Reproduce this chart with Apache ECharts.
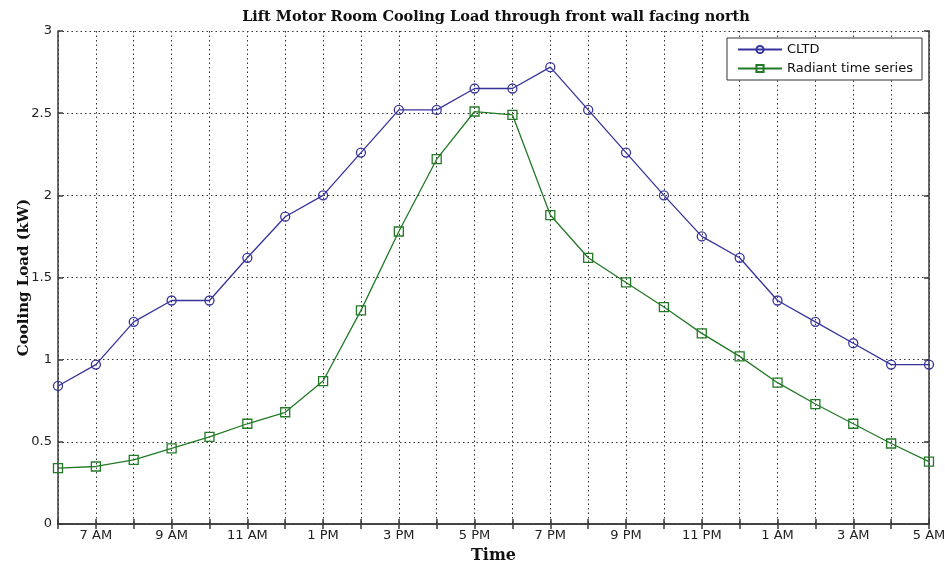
<!DOCTYPE html>
<html>
<head>
<meta charset="utf-8">
<script src="https://cdn.jsdelivr.net/npm/echarts@6/dist/echarts.min.js"></script>
<style>
  html, body { margin: 0; padding: 0; background: #fff; }
  #chart { width: 945px; height: 563px; }
</style>
</head>
<body>
<div id="chart"></div>
<script>
// Hourly time slots, 6 AM through 5 AM the next morning
const hours = [
  '6 AM', '7 AM', '8 AM', '9 AM', '10 AM', '11 AM', '12 PM', '1 PM',
  '2 PM', '3 PM', '4 PM', '5 PM', '6 PM', '7 PM', '8 PM', '9 PM',
  '10 PM', '11 PM', '12 AM', '1 AM', '2 AM', '3 AM', '4 AM', '5 AM'
];

// Cooling load (kW) by the CLTD method
const cltd = [
  0.84, 0.97, 1.23, 1.36, 1.36, 1.62, 1.87, 2.00,
  2.26, 2.52, 2.52, 2.65, 2.65, 2.78, 2.52, 2.26,
  2.00, 1.75, 1.62, 1.36, 1.23, 1.10, 0.97, 0.97
];

// Cooling load (kW) by the radiant time series method
const rts = [
  0.34, 0.35, 0.39, 0.46, 0.53, 0.61, 0.68, 0.87,
  1.30, 1.78, 2.22, 2.51, 2.49, 1.88, 1.62, 1.47,
  1.32, 1.16, 1.02, 0.86, 0.73, 0.61, 0.49, 0.38
];

const yTicks = { min: 0, max: 3, step: 0.5 };

const frame = '#3a3a3a';
const blue = '#36339a';
const green = '#237a26';
const dotted = { color: '#333', width: 1, type: [1.5, 3] };
const labelFont = { fontFamily: 'DejaVu Sans, Arial, sans-serif', fontSize: 13, color: '#222' };
const serifBold = { fontFamily: 'DejaVu Serif, serif', fontWeight: 'bold', color: '#111' };

const chart = echarts.init(document.getElementById('chart'));
chart.setOption({
  backgroundColor: '#fff',
  animation: false,
  title: {
    text: 'Lift Motor Room Cooling Load through front wall facing north',
    left: 491,
    textAlign: 'center',
    top: 5,
    textStyle: Object.assign({ fontSize: 14.5 }, serifBold)
  },
  legend: {
    orient: 'vertical',
    right: 23,
    top: 38,
    padding: [5, 9, 5, 10],
    itemGap: 6,
    itemWidth: 44,
    itemHeight: 9,
    backgroundColor: '#fff',
    borderColor: '#333',
    borderWidth: 1,
    textStyle: { fontFamily: 'DejaVu Sans, Arial, sans-serif', fontSize: 13, color: '#111' },
    data: ['CLTD', 'Radiant time series']
  },
  grid: { left: 58, right: 16, top: 31, bottom: 39, containLabel: false, outerBoundsMode: 'none' },
  xAxis: [
    {
      type: 'category',
      data: hours,
      boundaryGap: false,
      name: 'Time',
      nameLocation: 'middle',
      nameGap: 24,
      nameMoveOverlap: false,
      nameTextStyle: Object.assign({ fontSize: 16 }, serifBold),
      axisLine: { show: true, lineStyle: { color: frame, width: 1.5 } },
      axisTick: { show: true, inside: true, length: 5, interval: 0, lineStyle: { color: frame, width: 1.5 } },
      axisLabel: Object.assign({ margin: 5, interval: (i) => i % 2 === 1 }, labelFont),
      splitLine: { show: true, interval: 0, lineStyle: dotted }
    },
    {
      type: 'category',
      data: hours,
      boundaryGap: false,
      position: 'top',
      axisLine: { show: true, lineStyle: { color: frame, width: 1.5 } },
      axisTick: { show: true, inside: true, length: 5, interval: 0, lineStyle: { color: frame, width: 1.5 } },
      axisLabel: { show: false },
      splitLine: { show: false }
    }
  ],
  yAxis: [
    {
      type: 'value',
      min: yTicks.min,
      max: yTicks.max,
      interval: yTicks.step,
      name: 'Cooling Load (kW)',
      nameLocation: 'middle',
      nameGap: 26,
      nameMoveOverlap: false,
      nameTextStyle: Object.assign({ fontSize: 15 }, serifBold),
      axisLine: { show: true, lineStyle: { color: frame, width: 1.5 } },
      axisTick: { show: true, inside: true, length: 5, lineStyle: { color: frame, width: 1.5 } },
      axisLabel: Object.assign({ margin: 6 }, labelFont),
      splitLine: { show: true, lineStyle: dotted }
    },
    {
      type: 'value',
      min: yTicks.min,
      max: yTicks.max,
      interval: yTicks.step,
      position: 'right',
      axisLine: { show: true, lineStyle: { color: frame, width: 1.5 } },
      axisTick: { show: true, inside: true, length: 5, lineStyle: { color: frame, width: 1.5 } },
      axisLabel: { show: false },
      splitLine: { show: false }
    }
  ],
  series: [
    {
      name: 'CLTD',
      type: 'line',
      data: cltd,
      symbol: 'circle',
      symbolSize: 9,
      color: blue,
      lineStyle: { width: 1.3, color: blue },
      itemStyle: { color: 'rgba(255,255,255,0)', borderColor: blue, borderWidth: 1.3 }
    },
    {
      name: 'Radiant time series',
      type: 'line',
      data: rts,
      symbol: 'rect',
      symbolSize: 9,
      color: green,
      lineStyle: { width: 1.3, color: green },
      itemStyle: { color: 'rgba(255,255,255,0)', borderColor: green, borderWidth: 1.3 }
    }
  ]
});
</script>
</body>
</html>
